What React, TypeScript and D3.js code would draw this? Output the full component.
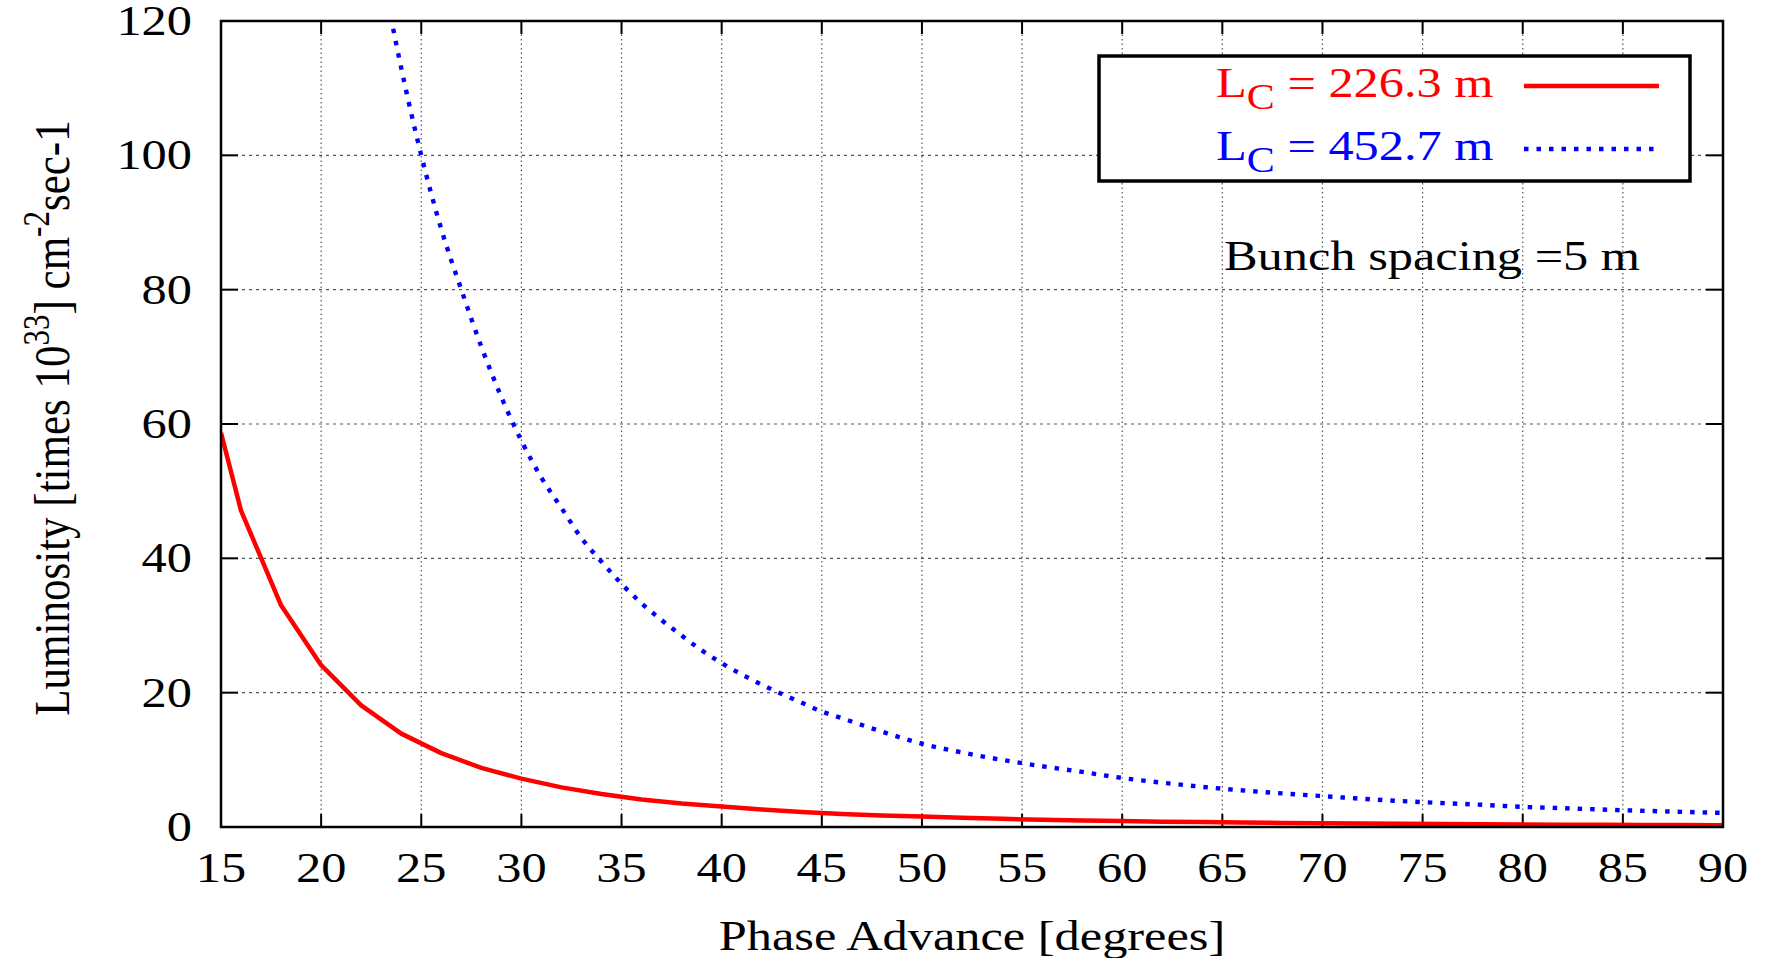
import React from 'react'
import * as d3 from 'd3'

// phase advance (deg) vs luminosity
const redPhase = [15, 16, 18, 20, 22, 24, 26, 28, 30, 32, 34, 36, 38, 40, 42, 44, 46, 48, 50, 52, 54, 56, 58, 60, 62, 64, 66, 68, 70, 72, 74, 76, 78, 80, 82, 84, 86, 88, 90]
const redLumi = [58.7, 47.1, 33.0, 24.1, 18.1, 13.9, 11.0, 8.8, 7.2, 5.9, 4.9, 4.1, 3.5, 3.05, 2.6, 2.25, 1.95, 1.7, 1.55, 1.38, 1.22, 1.08, 0.97, 0.88, 0.8, 0.73, 0.66, 0.6, 0.55, 0.51, 0.47, 0.43, 0.4, 0.37, 0.34, 0.32, 0.3, 0.28, 0.26]

const bluePhase = [23, 24, 25, 26, 27, 28, 29, 30, 31, 32, 33, 34, 35, 36, 37, 38, 39, 40, 42, 44, 45, 46, 48, 50, 52, 55, 58, 60, 62, 65, 68, 70, 72, 75, 78, 80, 82, 85, 88, 90]
const blueLumi = [128, 113, 100, 89, 80, 71.5, 64, 57.5, 52, 47.5, 43, 39.5, 36.2, 33.3, 30.8, 28.5, 26.3, 24.4, 21.2, 18.5, 17.2, 16.2, 14.2, 12.4, 11.1, 9.5, 8.2, 7.3, 6.6, 5.7, 5.0, 4.6, 4.2, 3.7, 3.3, 3.0, 2.8, 2.5, 2.25, 2.1]

const xTicks = [15, 20, 25, 30, 35, 40, 45, 50, 55, 60, 65, 70, 75, 80, 85, 90]
const yTicks = [0, 20, 40, 60, 80, 100, 120]

const W = 1777
const H = 958
const left = 221
const right = 1723
const top = 21
const bottom = 827
const font = 'Liberation Serif, Times New Roman, serif'
const SX = 1.2

function SText({ x, y, anchor = 'start', size = 42, fill = '#000', children }: any) {
  return (
    <text transform={`translate(${x},${y}) scale(${SX},1)`} textAnchor={anchor}
      fontFamily={font} fontSize={size} fill={fill}>{children}</text>
  )
}

export default function App() {
  const x = d3.scaleLinear().domain([15, 90]).range([left, right])
  const y = d3.scaleLinear().domain([0, 120]).range([bottom, top])

  const redLine = d3.line<number>().x((d, i) => x(redPhase[i])).y(d => y(d))
  const blueLine = d3.line<number>().x((d, i) => x(bluePhase[i])).y(d => y(d)).curve(d3.curveMonotoneX)

  return (
    <svg width={W} height={H} style={{ position: 'absolute', left: 0, top: 0, background: '#fff' }}>
      <defs>
        <clipPath id="plot">
          <rect x={left} y={top} width={right - left} height={bottom - top} />
        </clipPath>
      </defs>

      {/* grid */}
      {xTicks.slice(1, -1).map(t => (
        <line key={'gx' + t} x1={x(t)} x2={x(t)} y1={top} y2={bottom}
          stroke="#555" strokeWidth={1.2} strokeDasharray="1.5 3" />
      ))}
      {yTicks.slice(1, -1).map(t => (
        <line key={'gy' + t} x1={left} x2={right} y1={y(t)} y2={y(t)}
          stroke="#555" strokeWidth={1.2} strokeDasharray="3 4" />
      ))}

      {/* ticks */}
      {xTicks.map(t => (
        <g key={'tx' + t}>
          <line x1={x(t)} x2={x(t)} y1={bottom} y2={bottom - 13} stroke="#000" strokeWidth={2} />
          <line x1={x(t)} x2={x(t)} y1={top} y2={top + 13} stroke="#000" strokeWidth={2} />
          <SText x={x(t)} y={882} anchor="middle">{t}</SText>
        </g>
      ))}
      {yTicks.map(t => (
        <g key={'ty' + t}>
          <line x1={left} x2={left + 17} y1={y(t)} y2={y(t)} stroke="#000" strokeWidth={2} />
          <line x1={right} x2={right - 17} y1={y(t)} y2={y(t)} stroke="#000" strokeWidth={2} />
          <SText x={192} y={y(t) + 14} anchor="end">{t}</SText>
        </g>
      ))}

      {/* curves */}
      <g clipPath="url(#plot)">
        <path d={blueLine(blueLumi) || ''} fill="none" stroke="#0000ff" strokeWidth={4.4}
          strokeDasharray="4.5 8" />
        <path d={redLine(redLumi) || ''} fill="none" stroke="#ff0000" strokeWidth={4.5}
          strokeLinejoin="round" />
      </g>

      {/* frame */}
      <rect x={left} y={top} width={right - left} height={bottom - top} fill="none" stroke="#000" strokeWidth={2.5} />

      {/* legend */}
      <rect x={1099} y={56} width={591} height={125} fill="#fff" stroke="#000" strokeWidth={3.5} />
      <SText x={1216} y={97} fill="#ff0000">L<tspan fontSize={35} dy={12}>C</tspan><tspan dy={-12}> = 226.3 m</tspan></SText>
      <line x1={1524} x2={1659} y1={86} y2={86} stroke="#ff0000" strokeWidth={4.5} />
      <SText x={1216} y={160} fill="#0000ff">L<tspan fontSize={35} dy={12}>C</tspan><tspan dy={-12}> = 452.7 m</tspan></SText>
      <line x1={1524} x2={1659} y1={149} y2={149} stroke="#0000ff" strokeWidth={4.4} strokeDasharray="4.5 8" />

      <SText x={1224} y={270}>Bunch spacing =5 m</SText>

      {/* axis titles */}
      <SText x={972} y={950} anchor="middle">Phase Advance [degrees]</SText>
      <text transform={`translate(69,418) rotate(-90) scale(1,${SX})`} textAnchor="middle"
        fontFamily={font} fontSize={43}>
        Luminosity [times 10<tspan fontSize={31} dy={-17}>33</tspan><tspan dy={17}>] cm</tspan>
        <tspan fontSize={31} dy={-17}>-2</tspan><tspan dy={17}>sec-1</tspan>
      </text>
    </svg>
  )
}
